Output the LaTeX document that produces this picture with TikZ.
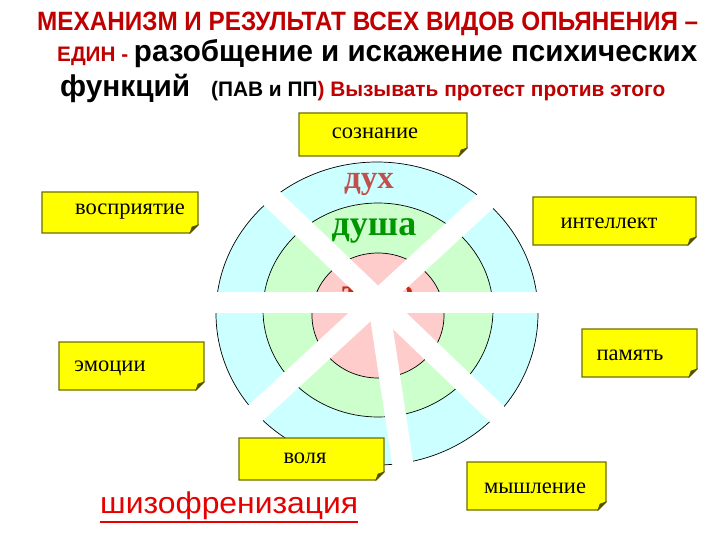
\documentclass[tikz,border=0pt]{standalone}
\usepackage{fontspec}
\usepackage{graphicx}
\setmainfont{Liberation Serif}
\newfontfamily\sansf{Liberation Sans}
\usetikzlibrary{calc}
\definecolor{tred}{RGB}{192,0,0}
\definecolor{sred}{RGB}{230,0,0}
\definecolor{ringc}{RGB}{204,255,255}
\definecolor{ringg}{RGB}{204,255,204}
\definecolor{ringp}{RGB}{255,204,204}
\definecolor{duhc}{RGB}{192,80,77}
\definecolor{dushac}{RGB}{0,150,0}
\definecolor{telc}{RGB}{200,40,20}
\definecolor{boxfill}{RGB}{255,255,0}
\definecolor{boxline}{RGB}{110,110,0}
\definecolor{foldc}{RGB}{80,80,0}
\tikzset{
  ybox/.style={fill=boxfill, draw=boxline, line width=1.3pt, line join=miter},
  yfold/.style={fill=foldc, draw=foldc, line width=0.6pt},
  boxtext/.style={inner sep=0pt, font=\fontsize{22.5}{26}\selectfont},
  band/.style={draw=white, line width=21pt, line cap=butt},
  ring/.style={draw=black, line width=0.7pt},
  titletext/.style={inner sep=0pt, anchor=base west}
}
\newcommand\ybox[8]{%
  \path[ybox] (#1,#2) -- (#3,#2) -- ({#3},{#4-8}) -- ({#3-8},{#4}) -- (#1,#4) -- cycle;
  \path[yfold] ({#3},{#4-8}) -- ({#3-8},{#4}) -- ({#3-6},{#4-6}) -- cycle;
  \node[boxtext] (#5) at (#6,#7) {#8};
}
\begin{document}
\begin{tikzpicture}[x=1pt,y=-1pt]
\useasboundingbox[fill=white] (0,0) rectangle (720,540);

% title
\node[titletext] (t1) at (37,31) {\resizebox{661pt}{\height}{\sansf\bfseries\fontsize{26.5}{30}\selectfont\color{tred}МЕХАНИЗМ И РЕЗУЛЬТАТ ВСЕХ ВИДОВ ОПЬЯНЕНИЯ –}};
\node[titletext] (t2) at (57,62) {\resizebox{640pt}{\height}{\sansf\bfseries{\color{tred}\fontsize{21}{24}\selectfont ЕДИН - }\fontsize{30}{32}\selectfont разобщение и искажение психических}};
\node[titletext] (t3) at (60,97) {\resizebox{605pt}{\height}{\sansf\bfseries\fontsize{30}{32}\selectfont функций\fontsize{21}{24}\selectfont\quad(ПАВ и ПП{\color{tred}) Вызывать протест против этого}}};

% rings
\path[ring, fill=ringc] (377,313.5) ellipse [x radius=161, y radius=151.5];
\path[ring, fill=ringg] (378,310) ellipse [x radius=115, y radius=107];
\path[ring, fill=ringp] (378,315.5) ellipse [x radius=66, y radius=62.5];
\node[inner sep=0pt, anchor=base, text=telc, font=\bfseries\fontsize{36}{40}\selectfont] (telo) at (378,303) {тело};

% bands
\coordinate (c) at (378,300);
\coordinate (hl) at (210,302);
\coordinate (hr) at (546,302);
\coordinate (a1) at (262,189);
\coordinate (a2) at (501,418);
\coordinate (b1) at (492,195);
\coordinate (b2) at (249,419);
\coordinate (v2) at (404,472);
\draw[band] (hl) -- (hr);
\draw[band] (a1) -- (a2);
\draw[band] (b1) -- (b2);
\draw[band] (c) -- (v2);

\node[inner sep=0pt, text=duhc, font=\bfseries\fontsize{33}{36}\selectfont] (duh) at (369,184) {дух};
\node[inner sep=0pt, text=dushac, font=\bfseries\fontsize{36}{40}\selectfont] (dusha) at (374,231) {душа};

% boxes
\ybox{299}{113}{467}{156}{soz}{375}{133}{сознание}
\ybox{42}{192}{198}{233}{vos}{130}{212}{восприятие}
\ybox{533}{197}{696}{245}{int}{609}{223}{интеллект}
\ybox{59}{342}{204}{390}{emo}{110}{368}{эмоции}
\ybox{582}{329}{697}{377}{pam}{630}{355}{память}
\ybox{239}{438}{384}{480}{vol}{305}{458}{воля}
\ybox{467}{462}{606}{510}{mys}{535}{488}{мышление}

% bottom word
\node[titletext] (shiz) at (100,513) {\resizebox{258pt}{\height}{\sansf\fontsize{30}{32}\selectfont\color{sred}шизофренизация}};
\draw[sred, line width=2pt] ($(shiz.base west)+(0,9)$) -- ($(shiz.base east)+(0,9)$);
\end{tikzpicture}
\end{document}
